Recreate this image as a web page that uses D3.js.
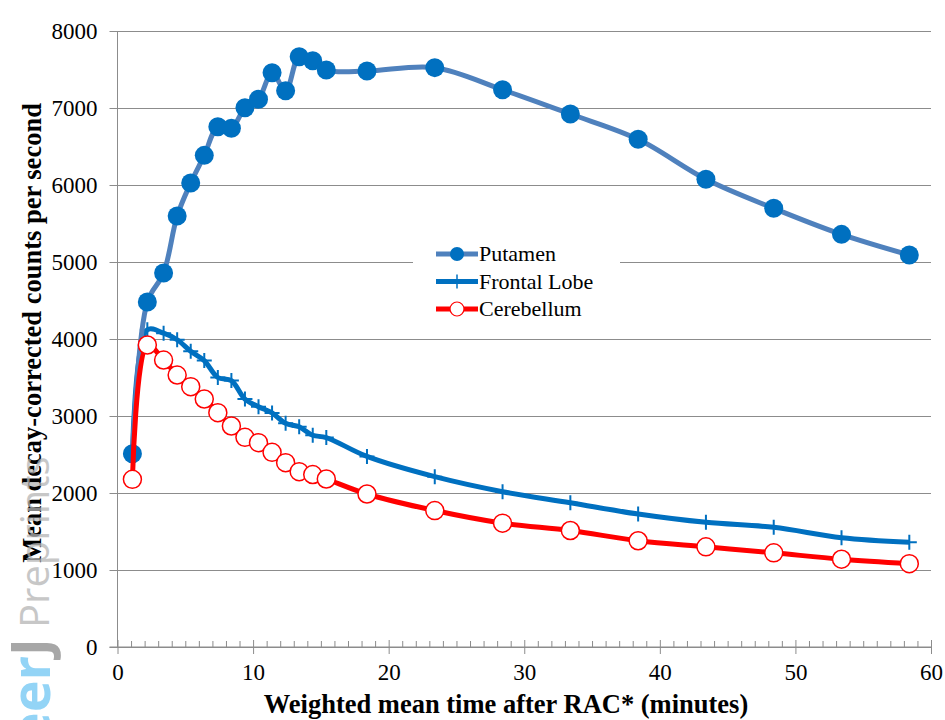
<!DOCTYPE html>
<html>
<head>
<meta charset="utf-8">
<script src="https://cdn.jsdelivr.net/npm/d3@7/dist/d3.min.js"></script>
<style>
  body { margin: 0; background: #fff; }
  text { font-family: "Liberation Serif", "Times New Roman", serif; }
</style>
</head>
<body>
<div id="chart"></div>
<script>
// sampling times (minutes) shared by the three regions
var times = [1.1, 2.2, 3.4, 4.4, 5.4, 6.4, 7.4, 8.4, 9.4, 10.4, 11.4, 12.4, 13.4, 14.4, 15.4,
             18.4, 23.4, 28.4, 33.4, 38.4, 43.4, 48.4, 53.4, 58.4];

var putamen = [2510, 4480, 4857, 5597, 6026, 6385, 6757, 6736, 7004, 7113, 7458, 7225, 7666, 7614, 7493,
               7480, 7524, 7238, 6922, 6593, 6074, 5697, 5359, 5091];

var frontal = [2480, 4120, 4075, 3990, 3840, 3720, 3500, 3460, 3220, 3120, 3040, 2905, 2860, 2750, 2720,
               2475, 2212, 2017, 1874, 1727, 1619, 1554, 1419, 1360];

var cerebellum = [2178, 3922, 3727, 3532, 3381, 3221, 3043, 2870, 2723, 2654, 2528, 2394, 2277, 2240, 2182,
                  1987, 1772, 1608, 1513, 1380, 1301, 1223, 1140, 1082];

var xTicks = [0, 10, 20, 30, 40, 50, 60];
var yTicks = [0, 1000, 2000, 3000, 4000, 5000, 6000, 7000, 8000];
var seriesNames = ["Putamen", "Frontal Lobe", "Cerebellum"];

var W = 945, H = 720;
var margin = {top: 31, right: 14, bottom: 73, left: 117.5},
    width = W - margin.left - margin.right,
    height = H - margin.top - margin.bottom;

var svg = d3.select("#chart")
  .append("svg")
    .attr("width", W)
    .attr("height", H);

var g = svg.append("g")
    .attr("transform", "translate(" + margin.left + "," + margin.top + ")");

var x = d3.scaleLinear().domain([0, 60]).range([0, width]);
var y = d3.scaleLinear().domain([0, 8000]).range([height, 0]);

var gridColor = "#8c8c8c";
var serif = "'Liberation Serif', 'Times New Roman', serif";

// horizontal gridlines + y axis
var yAxis = g.append("g")
  .call(d3.axisLeft(y).tickValues(yTicks).tickSize(-width).tickSizeOuter(0).tickPadding(20).tickFormat(d3.format("d")));
yAxis.select(".domain").remove();
yAxis.selectAll(".tick line").attr("stroke", gridColor).attr("x1", -8);
yAxis.selectAll(".tick text")
  .attr("fill", "#000")
  .style("font-size", "23px")
  .style("font-family", serif);
g.append("line")
  .attr("x1", 0).attr("x2", 0)
  .attr("y1", 0).attr("y2", height)
  .attr("stroke", gridColor);

// x axis with minor ticks
var minor = g.append("g")
  .attr("transform", "translate(0," + height + ")")
  .call(d3.axisBottom(x).tickValues(d3.range(1, 60).filter(function(d){ return d % 10 != 0; })).tickSize(-6).tickFormat(""));
minor.select(".domain").remove();
minor.selectAll(".tick line").attr("stroke", gridColor);

var xAxis = g.append("g")
  .attr("transform", "translate(0," + height + ")")
  .call(d3.axisBottom(x).tickValues(xTicks).tickSize(7).tickSizeOuter(0).tickPadding(10));
xAxis.select(".domain").attr("stroke", gridColor).attr("d", "M-8,0H" + width);
xAxis.selectAll(".tick line").attr("stroke", gridColor).attr("y1", -7);
xAxis.selectAll(".tick text")
  .attr("fill", "#000")
  .style("font-size", "23px")
  .style("font-family", serif);

// series
function rows(vals) {
  return times.map(function(t, i){ return {t: t, v: vals[i]}; });
}
var line = d3.line()
  .curve(d3.curveCatmullRom.alpha(0.5))
  .x(function(d){ return x(d.t); })
  .y(function(d){ return y(d.v); });

var putColor = "#4f81bd", dotColor = "#0070c0", frColor = "#0070c0", ceColor = "#ff0000";

function plus(sel, size) {
  sel.append("path")
    .attr("d", "M" + (-size) + ",0H" + size + "M0," + (-size) + "V" + size)
    .attr("stroke", frColor)
    .attr("stroke-width", 2)
    .attr("fill", "none");
}

// frontal lobe
g.append("path").datum(rows(frontal))
  .attr("fill", "none").attr("stroke", frColor).attr("stroke-width", 5)
  .attr("d", line);
g.selectAll(".fr").data(rows(frontal)).enter()
  .append("g").attr("class", "fr")
  .attr("transform", function(d){ return "translate(" + x(d.t) + "," + y(d.v) + ")"; })
  .each(function(){ plus(d3.select(this), 7.5); });

// putamen
g.append("path").datum(rows(putamen))
  .attr("fill", "none").attr("stroke", putColor).attr("stroke-width", 5)
  .attr("d", line);
g.selectAll(".pu").data(rows(putamen)).enter()
  .append("circle").attr("class", "pu")
  .attr("cx", function(d){ return x(d.t); })
  .attr("cy", function(d){ return y(d.v); })
  .attr("r", 9.5)
  .attr("fill", dotColor);

// cerebellum
g.append("path").datum(rows(cerebellum))
  .attr("fill", "none").attr("stroke", ceColor).attr("stroke-width", 5)
  .attr("d", line);
g.selectAll(".ce").data(rows(cerebellum)).enter()
  .append("circle").attr("class", "ce")
  .attr("cx", function(d){ return x(d.t); })
  .attr("cy", function(d){ return y(d.v); })
  .attr("r", 9)
  .attr("fill", "#fff")
  .attr("stroke", ceColor)
  .attr("stroke-width", 1.5);

// legend
var leg = svg.append("g").attr("transform", "translate(413,240)");
leg.append("rect").attr("width", 207).attr("height", 84).attr("fill", "#fff");
var legColors = [putColor, frColor, ceColor];
seriesNames.forEach(function(name, i){
  var row = leg.append("g").attr("transform", "translate(0," + (14 + i * 27.5) + ")");
  row.append("line").attr("x1", 23).attr("x2", 65).attr("stroke", legColors[i]).attr("stroke-width", 5);
  if (i == 0) {
    row.append("circle").attr("cx", 44).attr("r", 7).attr("fill", dotColor);
  } else if (i == 1) {
    row.append("path").attr("d", "M44,-7V7").attr("stroke", frColor).attr("stroke-width", 1.5);
  } else {
    row.append("circle").attr("cx", 44).attr("r", 7).attr("fill", "#fff").attr("stroke", ceColor).attr("stroke-width", 1.2);
  }
  row.append("text").attr("x", 66).attr("y", 7)
    .style("font-size", "22px").style("font-family", serif).attr("fill", "#000").text(name);
});

// axis titles
svg.append("text")
  .attr("x", 506).attr("y", 713)
  .attr("text-anchor", "middle")
  .style("font-size", "26.5px").style("font-weight", "bold").style("font-family", serif)
  .text("Weighted mean time after RAC* (minutes)");

svg.append("text")
  .attr("transform", "translate(41,333) rotate(-90)")
  .attr("text-anchor", "middle")
  .style("font-size", "26.5px").style("font-weight", "bold").style("font-family", serif)
  .text("Mean decay-corrected counts per second");

// watermark
var wm = svg.append("g").attr("opacity", 0.75);
wm.append("text")
  .attr("transform", "translate(50,638) rotate(-90)")
  .attr("text-anchor", "end")
  .style("font-family", "'Open Sans', sans-serif")
  .style("font-size", "54px").style("font-weight", "bold")
  .call(function(t){
    t.append("tspan").attr("fill", "#6fc6f4").text("Peer");
    t.append("tspan").attr("fill", "#8a8a8a").text("J");
  });
wm.append("text")
  .attr("transform", "translate(49,628) rotate(-90)")
  .style("font-family", "'Open Sans', sans-serif")
  .style("font-size", "40px")
  .attr("fill", "#b5b5b5")
  .text("Preprints");
</script>
</body>
</html>
